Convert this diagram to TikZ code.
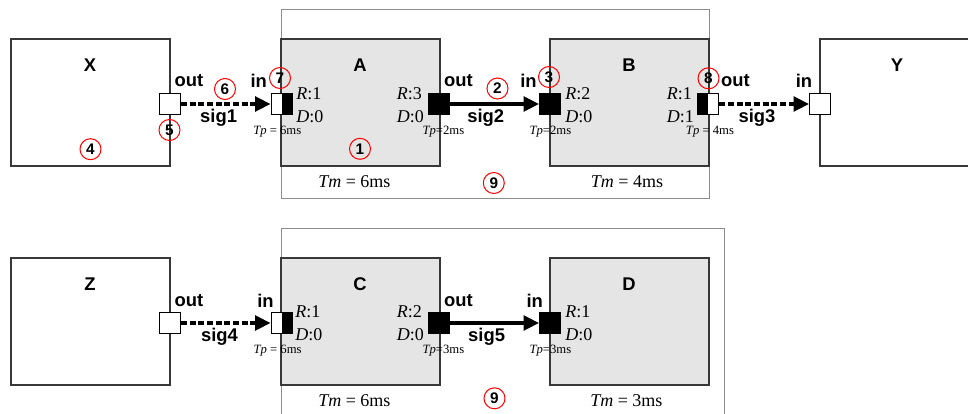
\documentclass[tikz,border=0pt]{standalone}
\usepackage{fontspec}
\setmainfont{Liberation Serif}
\setsansfont{Liberation Sans}
\usepackage{tikz}
\usetikzlibrary{arrows.meta}
\definecolor{boxgray}{HTML}{383838}
\definecolor{framegray}{HTML}{8C8C8C}
\definecolor{taskfill}{HTML}{E5E5E5}

\begin{document}
\begin{tikzpicture}[x=0.75pt,y=-0.75pt]
  \tikzstyle{block}=[draw=boxgray,line width=1.1pt,minimum width=119.25pt,minimum height=95.25pt,inner sep=0pt]
  \tikzstyle{task}=[block,fill=taskfill]
  \tikzstyle{frame}=[draw=framegray,line width=0.75pt]
  \tikzstyle{port}=[draw=black,fill=white,line width=0.75pt,minimum size=15.75pt,inner sep=0pt]
  \tikzstyle{fullport}=[port,fill=black]
  \tikzstyle{inport}=[port,path picture={\fill[black] (path picture bounding box.north) rectangle (path picture bounding box.south east);}]
  \tikzstyle{outport}=[port,path picture={\fill[black] (path picture bounding box.north west) rectangle (path picture bounding box.south);}]
  \tikzstyle{title}=[font=\fontsize{13.8}{16}\selectfont\sffamily\bfseries,inner sep=0pt]
  \tikzstyle{rd}=[font=\fontsize{13.5}{16}\selectfont,inner sep=0pt,anchor=base west]
  \tikzstyle{tp}=[font=\fontsize{9.5}{11}\selectfont,inner sep=0pt,anchor=base west]
  \tikzstyle{num}=[circle,draw=red,line width=0.75pt,minimum size=15.75pt,inner sep=0pt,font=\fontsize{11.5}{12}\selectfont\sffamily\bfseries]
  \tikzstyle{sig}=[line width=2.4pt,-{Triangle[length=11.5pt,width=11pt]}]
  \tikzstyle{sigdash}=[sig,dash pattern=on 4.5pt off 2pt]

  \useasboundingbox (0,0) rectangle (968,414);

  % frames
  \draw[frame] (281,9) rectangle (709,198);
  \draw[frame] (281,228) rectangle (724,440);

  % top row
  \node[block] (x) at (90.5,102.5) {};
  \node[task] (a) at (360.5,102.5) {};
  \node[task] (b) at (629.5,102.5) {};
  \node[block] (y) at (899.5,102.5) {};
  \node[title] at (90,64.7) {X};
  \node[title] at (360,64.7) {A};
  \node[title] at (629,64.7) {B};
  \node[title] at (897,64.7) {Y};

  \node[port] (xout) at (170,104) {};
  \node[inport] (ain) at (281.5,104) {};
  \node[fullport] (aout) at (439.2,104) {};
  \node[fullport] (bin) at (550,104) {};
  \node[outport] (bout) at (708.3,104) {};
  \node[port] (yin) at (820,104) {};

  \draw[sigdash] (xout) -- (ain) node[title,pos=0.42,below=3pt] {sig1};
  \draw[sig] (aout) -- (bin) node[title,pos=0.4,below=3pt] {sig2};
  \draw[sigdash] (bout) -- (yin) node[title,pos=0.42,below=3pt] {sig3};

  \node[title] at (189,81) {out};
  \node[title] at (258.7,81) {in};
  \node[title] at (458.5,81) {out};
  \node[title] at (528.5,81) {in};
  \node[title] at (735.5,81) {out};
  \node[title] at (804,81) {in};

  \node[rd] at (296,99.3) {\textit{R}:1};
  \node[rd] at (296,122.7) {\textit{D}:0};
  \node[rd] at (396.7,99.3) {\textit{R}:3};
  \node[rd] at (396.7,122.7) {\textit{D}:0};
  \node[rd] at (565,99.3) {\textit{R}:2};
  \node[rd] at (565,122.7) {\textit{D}:0};
  \node[rd] at (666.7,99.3) {\textit{R}:1};
  \node[rd] at (666.7,122.7) {\textit{D}:1};

  \node[tp] at (253,134.3) {\textit{Tp} = 6ms};
  \node[tp] at (422.3,134.3) {\textit{Tp}=2ms};
  \node[tp] at (529.3,134.3) {\textit{Tp}=2ms};
  \node[tp] at (685.7,134.3) {\textit{Tp} = 4ms};

  \node[rd] at (318,187.7) {\textit{Tm} = 6ms};
  \node[rd] at (590.7,187.7) {\textit{Tm} = 4ms};

  \node[num] at (360,148.8) {1};
  \node[num] at (497.5,88.5) {2};
  \node[num] at (549,77) {3};
  \node[num] at (90.5,149.2) {4};
  \node[num] at (169.5,130) {5};
  \node[num] at (225,89) {6};
  \node[num] at (280,78) {7};
  \node[num] at (708.5,78.3) {8};
  \node[num] at (493.8,183) {9};

  % bottom row
  \node[block] (z) at (90.5,321.5) {};
  \node[task] (c) at (360.5,321.5) {};
  \node[task] (d) at (629.5,321.5) {};
  \node[title] at (90,283.7) {Z};
  \node[title] at (360,283.7) {C};
  \node[title] at (629,283.7) {D};

  \node[port] (zout) at (170,323) {};
  \node[inport] (cin) at (281.5,323) {};
  \node[fullport] (cout) at (439.2,323) {};
  \node[fullport] (din) at (550,323) {};

  \draw[sigdash] (zout) -- (cin) node[title,pos=0.43,below=3pt] {sig4};
  \draw[sig] (cout) -- (din) node[title,pos=0.41,below=3pt] {sig5};

  \node[title] at (189,300.5) {out};
  \node[title] at (265.5,300.5) {in};
  \node[title] at (458.5,300.5) {out};
  \node[title] at (534.7,300.5) {in};

  \node[rd] at (295,317.3) {\textit{R}:1};
  \node[rd] at (295,340.7) {\textit{D}:0};
  \node[rd] at (396.7,317.3) {\textit{R}:2};
  \node[rd] at (396.7,340.7) {\textit{D}:0};
  \node[rd] at (565,317.3) {\textit{R}:1};
  \node[rd] at (565,340.7) {\textit{D}:0};

  \node[tp] at (253.3,353.3) {\textit{Tp} = 6ms};
  \node[tp] at (422.3,353.3) {\textit{Tp}=3ms};
  \node[tp] at (529.3,353.3) {\textit{Tp}=3ms};

  \node[rd] at (318,406) {\textit{Tm} = 6ms};
  \node[rd] at (590,406) {\textit{Tm} = 3ms};

  \node[num] at (494.5,398.3) {9};
\end{tikzpicture}
\end{document}
